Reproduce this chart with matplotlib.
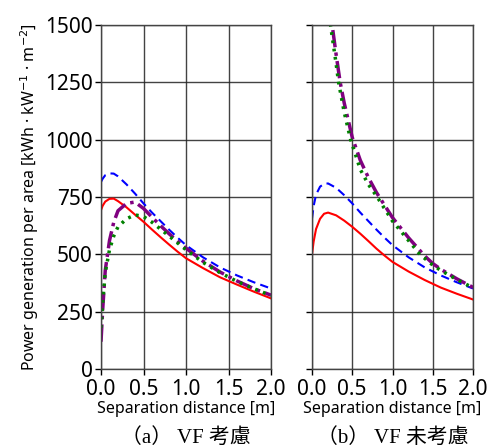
import matplotlib
matplotlib.use("Agg")
import matplotlib.pyplot as plt

plt.rcParams['font.family'] = ['Noto Sans', 'Noto Sans CJK JP', 'DejaVu Sans']

# ---- data ----
x_std = [0, 0.02, 0.05, 0.1, 0.15, 0.2, 0.3, 0.4, 0.5, 0.6, 0.7, 0.8, 0.9, 1.0, 1.2, 1.4, 1.6, 1.8, 2.0]

a_red = [693, 712, 730, 742, 743, 732, 705, 673, 642, 608, 575, 543, 512, 483, 440, 400, 368, 337, 308]
a_blue = [816, 830, 845, 853, 852, 840, 805, 765, 722, 682, 645, 608, 573, 540, 487, 443, 408, 378, 351]
a_purple = [119, 260, 430, 560, 640, 690, 722, 728, 700, 662, 625, 590, 557, 527, 470, 423, 384, 350, 322]
a_green = [180, 290, 420, 520, 580, 620, 655, 672, 665, 640, 610, 580, 550, 520, 465, 420, 382, 350, 320]

b_red = [500, 555, 610, 655, 677, 682, 670, 647, 620, 590, 558, 525, 495, 467, 425, 388, 355, 328, 303]
b_blue = [656, 710, 760, 795, 808, 809, 790, 758, 722, 682, 645, 608, 573, 540, 487, 443, 408, 378, 351]

x_b_purple = [0.15, 0.2, 0.25, 0.3, 0.35, 0.4, 0.5, 0.6, 0.7, 0.8, 0.9, 1.0, 1.2, 1.4, 1.5, 1.6, 1.8, 2.0]
b_purple = [1900, 1680, 1500, 1370, 1250, 1160, 1010, 910, 835, 770, 715, 660, 572, 493, 460, 435, 393, 356]
x_b_green = [0.15, 0.2, 0.23, 0.3, 0.33, 0.4, 0.48, 0.6, 0.7, 0.81, 0.9, 1.0, 1.2, 1.34, 1.5, 1.6, 1.8, 2.0]
b_green = [1850, 1600, 1500, 1330, 1250, 1120, 1000, 870, 805, 750, 700, 645, 560, 500, 453, 430, 390, 354]

xticks = [0.0, 0.5, 1.0, 1.5, 2.0]
yticks = [0, 250, 500, 750, 1000, 1250, 1500]
xlabel = 'Separation distance [m]'
ylabel = 'Power generation per area [kWh · kW$^{-1}$ · m$^{-2}$]'
captions = ['（a） VF 考慮', '（b） VF 未考慮']

fig = plt.figure(figsize=(4.92, 4.48), dpi=100)
ax1 = fig.add_axes([101/492, 79/448, 170/492, 344/448])
ax2 = fig.add_axes([312/492, 79/448, 161/492, 344/448])

def style(ax, labels=True):
    ax.set_xlim(0, 2.0)
    ax.set_ylim(0, 1500)
    ax.set_xticks(xticks)
    ax.set_xticklabels([f'{v:.1f}' for v in xticks], fontsize=15)
    ax.set_yticks(yticks)
    if labels:
        ax.set_yticklabels([str(v) for v in yticks], fontsize=15)
    else:
        ax.set_yticklabels([])
    ax.grid(True, color='#222222', linewidth=1.0, alpha=0.85)
    ax.set_axisbelow(True)
    ax.tick_params(axis='x', length=4, width=1, pad=3)
    ax.tick_params(axis='y', length=4, width=1, pad=2)
    for s in ax.spines.values():
        s.set_color('#444444')
        s.set_linewidth(1.0)
    ax.set_xlabel(xlabel, fontsize=11.5, labelpad=1)

ax1.plot(x_std, a_red, color='red', lw=1.5, ls='-')
ax1.plot(x_std, a_blue, color='blue', lw=1.5, ls=(0, (4, 2.5)))
ax1.plot(x_std, a_purple, color='purple', lw=2.5, ls=(0, (5, 1.5, 1, 1.5)))
ax1.plot(x_std, a_green, color='green', lw=2.5, ls=(0, (0.8, 1.6)))
style(ax1, True)
ax1.set_ylabel(ylabel, fontsize=11.5, labelpad=3)

ax2.plot(x_std, b_red, color='red', lw=1.5, ls='-')
ax2.plot(x_std, b_blue, color='blue', lw=1.5, ls=(0, (4, 2.5)))
ax2.plot(x_b_purple, b_purple, color='purple', lw=2.5, ls=(0, (5, 1.5, 1, 1.5)))
ax2.plot(x_b_green, b_green, color='green', lw=2.5, ls=(0, (0.8, 1.6)))
style(ax2, False)

cap_font = ['Liberation Serif', 'Noto Sans CJK JP']
fig.text(186/492, 0/448, captions[0], ha='center', va='bottom', fontsize=15, family=cap_font)
fig.text(393/492, 0/448, captions[1], ha='center', va='bottom', fontsize=15, family=cap_font)

fig.savefig('out.png', dpi=100)
